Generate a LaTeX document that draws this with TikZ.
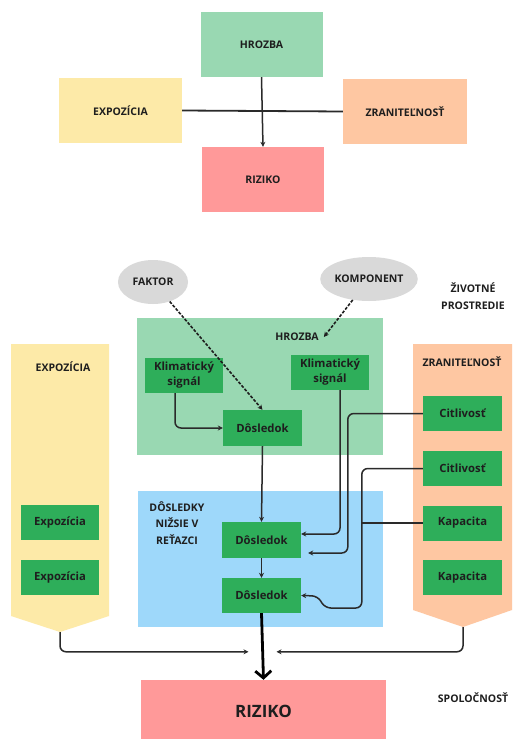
\documentclass[tikz,border=0pt]{standalone}
\usepackage{fontspec}
\setmainfont{Open Sans}
\usetikzlibrary{arrows.meta,shapes.geometric,calc}

\definecolor{txt}{HTML}{1E1E1E}
\definecolor{lgreen}{HTML}{99D8B2}
\definecolor{dgreen}{HTML}{2EAE5A}
\definecolor{lyellow}{HTML}{FDEAA8}
\definecolor{peach}{HTML}{FEC7A2}
\definecolor{rose}{HTML}{FF9999}
\definecolor{lblue}{HTML}{9ED8FA}
\definecolor{lgray}{HTML}{D9D9D9}
\definecolor{wire}{HTML}{2A2A2A}

\tikzset{
  lbl/.style={font=\bfseries\fontsize{10.5}{16.5}\selectfont, text=txt, align=center, inner sep=1pt},
  bigbox/.style={lbl, inner sep=0pt, minimum width=122pt, minimum height=65pt},
  gbox/.style={font=\bfseries\fontsize{11.3}{15}\selectfont, text=txt, align=center,
    fill=dgreen, inner sep=0pt, minimum width=78pt, minimum height=35pt},
  bubble/.style={lbl, ellipse, fill=lgray, inner sep=0pt, minimum height=44pt},
  conn/.style={draw=wire, line width=1.5pt, rounded corners=6pt,
    -{Stealth[length=5pt,width=5pt]}},
  plain/.style={draw=wire, line width=1.5pt, rounded corners=6pt},
  dashconn/.style={draw=txt, line width=1.6pt, dash pattern=on 3pt off 1.6pt,
    -{Stealth[length=5pt,width=5pt]}},
  heavy/.style={draw=black, line width=2.8pt,
    -{Straight Barb[length=7pt,width=16pt,line width=2.8pt]}}
}

\begin{document}
\begin{tikzpicture}[x=1pt,y=-1pt]
\useasboundingbox (0,0) rectangle (516,739);
\fill[white] (0,0) rectangle (516,739);

% ---------- simple scheme ----------
\node[bigbox, fill=lgreen] (hz) at (261.5,44.5) {HROZBA};
\node[bigbox, fill=lyellow, minimum width=123pt] (ex) at (120.5,110.5) {EXPOZÍCIA};
\node[bigbox, fill=peach, minimum width=124pt] (zr) at (405,111.5) {ZRANITEĽNOSŤ};
\node[bigbox, fill=rose] (rz) at (263,179.5) {RIZIKO};
\draw[plain, line width=1.8pt] (ex.east) -- (zr.west);
\draw[conn] (hz.south) -- (rz.north);

% ---------- detailed scheme: backgrounds ----------
\path[fill=lyellow] (11,344) -- (109,344) -- (109,616) -- (60,632) -- (11,616) -- cycle;
\coordinate (expTip) at (60,632);
\path[fill=peach] (413,344) -- (512,344) -- (512,610) -- (463,627) -- (413,610) -- cycle;
\coordinate (zrTip) at (463,627);

\node[fill=lgreen, inner sep=0pt, minimum width=246pt, minimum height=137pt] (hzReg) at (260,386.5) {};
\node[fill=lblue, inner sep=0pt, minimum width=245pt, minimum height=136pt] (chainReg) at (260.5,559) {};

% ---------- labels ----------
\node[bubble, minimum width=70pt] (faktor) at (153,282) {FAKTOR};
\node[bubble, minimum width=82pt] (komp) at (369,279) {KOMPONENT};
\node[lbl] (env) at (473,296) {ŽIVOTNÉ\\PROSTREDIE};
\node[lbl] (hlab) at (297,337) {HROZBA};
\node[lbl] (zlab) at (462,362) {ZRANITEĽNOSŤ};
\node[lbl] (elab) at (63,367) {EXPOZÍCIA};
\node[lbl] (clab) at (177,523) {DÔSLEDKY\\NIŽSIE V\\REŤAZCI};
\node[lbl] (soc) at (473,698) {SPOLOČNOSŤ};

% ---------- boxes ----------
\node[gbox] (kl) at (184,375.5) {Klimatický\\signál};
\node[gbox] (kr) at (330,372.5) {Klimatický\\signál};
\node[gbox, minimum width=79pt, minimum height=36pt] (dt) at (262.5,428) {Dôsledok};
\node[gbox, minimum width=79pt, minimum height=36pt] (dm) at (261.5,540) {Dôsledok};
\node[gbox, minimum width=79pt] (db) at (261.5,595.5) {Dôsledok};
\node[gbox, minimum width=79pt] (c1) at (462.5,413.5) {Citlivosť};
\node[gbox, minimum width=79pt] (c2) at (462.5,468.5) {Citlivosť};
\node[gbox, minimum width=79pt] (k1) at (462.5,523) {Kapacita};
\node[gbox, minimum width=79pt] (k2) at (462.5,577.5) {Kapacita};
\node[gbox] (e1) at (60,522.5) {Expozícia};
\node[gbox] (e2) at (60,577.5) {Expozícia};
\node[fill=rose, inner sep=0pt, minimum width=245pt, minimum height=62pt,
  font=\bfseries\fontsize{17}{20}\selectfont, text=txt] (riz) at (263.5,711) {RIZIKO};

% ---------- connectors ----------
\draw[dashconn] (faktor) -- (dt.north);
\draw[dashconn] (komp) -- ([xshift=4pt]hlab.east);

\draw[conn] ([xshift=-9pt]kl.south) |- (dt.west);
\draw[conn] (dt.south) -- (dm.north);
\draw[conn] (dm.south) -- (db.north);
\draw[conn] ([xshift=10pt]kr.south) |- ([yshift=6pt]dm.east);
\draw[conn] (c1.west) -- ++(-75,0) |- ([xshift=7pt,yshift=-13pt]dm.east);
\draw[conn] (c2.west) -- ++(-61,0) -- ++(0,139.5) -- ++(-37,0) -- ++(-7,-12) -- (db.east);
\draw[plain] (k1.west) -- ++(-61,0);

\coordinate (inL) at ([xshift=-15pt,yshift=28pt]riz.north);
\coordinate (inR) at ([xshift=13pt,yshift=28pt]riz.north);
\draw[conn] (expTip) |- (inL);
\draw[conn] (zrTip) |- (inR);
\draw[heavy] (db.south) -- (riz.north);
\end{tikzpicture}
\end{document}
